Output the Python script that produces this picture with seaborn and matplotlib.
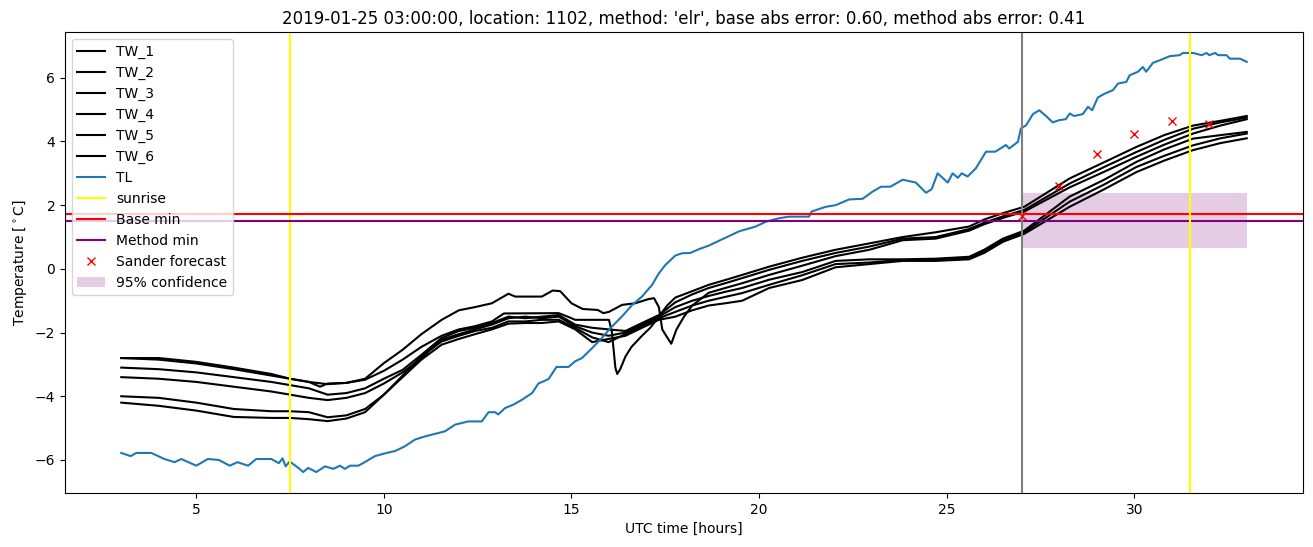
import matplotlib
matplotlib.use("Agg")
import matplotlib.pyplot as plt
import seaborn as sns
import pandas as pd

# ---------------- data ----------------
hours_grid = [3.0, 4.0, 5.0, 6.0, 7.0, 7.5, 8.0, 8.5, 9.0, 9.5, 10.0, 10.5, 11.0, 11.54, 12.0,
              12.43, 12.88, 13.32, 13.77, 14.21, 14.66, 15.1, 15.55, 15.99, 16.44, 16.88, 17.33,
              17.77, 18.22, 18.66, 19.1, 19.55, 20.27, 21.15, 22.04, 22.94, 23.83, 24.71, 25.6,
              26.0, 26.5, 27.07, 28.28, 29.2, 30.06, 30.8, 31.57, 32.3, 33.0]

tw1_hours = [3.0, 4.0, 5.0, 6.0, 7.0, 7.5, 8.0, 8.3, 8.5, 9.0, 9.5, 10.0, 10.5, 11.0, 11.54, 12.0,
             12.43, 12.88, 13.32, 13.5, 14.21, 14.5, 14.7, 15.0, 15.3, 15.7, 15.85, 16.0, 16.35,
             16.7, 17.05, 17.2, 17.33, 17.42, 17.55, 17.66, 17.8, 18.0, 18.22, 18.66, 19.1, 19.55,
             20.27, 21.15, 22.04, 22.94, 23.83, 24.71, 25.6, 26.0, 26.5, 27.07, 28.28, 29.2,
             30.06, 30.8, 31.57, 32.3, 33.0]
tw1 = [-2.8, -2.8, -2.92, -3.1, -3.3, -3.45, -3.55, -3.7, -3.6, -3.58, -3.45, -2.96, -2.54, -2.05,
       -1.6, -1.3, -1.2, -1.08, -0.78, -0.87, -0.87, -0.68, -0.7, -1.08, -1.26, -1.29, -1.39, -1.35,
       -1.13, -1.08, -0.95, -0.92, -1.2, -1.9, -2.15, -2.35, -1.9, -1.5, -1.15, -0.75, -0.6, -0.45,
       -0.19, 0.1, 0.4, 0.6, 0.9, 0.95, 1.2, 1.4, 1.6, 1.8, 2.56, 3.05, 3.52, 3.9, 4.25, 4.5, 4.7]

tw2_hours = [3.0, 4.0, 5.0, 6.0, 7.0, 7.5, 8.0, 8.5, 9.0, 9.5, 10.0, 10.5, 11.0, 11.54, 12.0,
             12.43, 12.88, 13.2, 14.66, 14.9, 15.1, 16.0, 16.08, 16.17, 16.22, 16.3, 16.44, 16.6,
             16.88, 17.1, 17.33, 17.55, 17.77, 18.22, 18.66, 19.1, 19.55, 20.27, 21.15, 22.04,
             22.94, 23.83, 24.71, 25.6, 26.0, 26.5, 27.07, 28.28, 29.2, 30.06, 30.8, 31.57, 32.3, 33.0]
tw2 = [-2.8, -2.85, -2.97, -3.15, -3.35, -3.45, -3.55, -3.62, -3.58, -3.48, -3.2, -2.85, -2.45,
       -2.1, -1.9, -1.8, -1.65, -1.4, -1.39, -1.5, -1.6, -1.6, -2.0, -3.1, -3.3, -3.15, -2.75, -2.45,
       -2.1, -1.85, -1.5, -1.15, -0.9, -0.7, -0.5, -0.35, -0.19, 0.07, 0.35, 0.6, 0.8, 1.0, 1.15,
       1.33, 1.55, 1.75, 1.95, 2.84, 3.35, 3.83, 4.2, 4.5, 4.65, 4.8]

tw3 = [-3.1, -3.15, -3.25, -3.4, -3.55, -3.65, -3.75, -3.95, -3.9, -3.75, -3.45, -3.17, -2.7, -2.17,
       -1.95, -1.85, -1.7, -1.5, -1.55, -1.5, -1.45, -1.75, -1.85, -1.9, -1.95, -1.7, -1.45, -1.05,
       -0.8, -0.6, -0.45, -0.29, -0.03, 0.25, 0.5, 0.7, 0.95, 1.0, 1.25, 1.45, 1.65, 1.85, 2.68,
       3.2, 3.67, 4.05, 4.4, 4.6, 4.75]
tw4 = [-3.4, -3.45, -3.55, -3.7, -3.85, -3.95, -4.05, -4.12, -4.05, -3.9, -3.6, -3.25, -2.8, -2.22,
       -2.05, -1.9, -1.75, -1.55, -1.5, -1.55, -1.5, -1.8, -2.0, -2.1, -2.0, -1.75, -1.5, -1.2, -1.0,
       -0.85, -0.72, -0.6, -0.34, -0.1, 0.25, 0.3, 0.3, 0.32, 0.38, 0.6, 0.95, 1.2, 2.27, 2.8, 3.36,
       3.75, 4.09, 4.2, 4.3]
tw5 = [-4.0, -4.05, -4.2, -4.4, -4.47, -4.47, -4.5, -4.66, -4.6, -4.4, -3.95, -3.35, -2.75, -2.28,
       -2.1, -1.95, -1.85, -1.65, -1.65, -1.6, -1.6, -1.85, -2.15, -2.3, -2.05, -1.8, -1.55, -1.35,
       -1.15, -1.0, -0.88, -0.76, -0.5, -0.2, 0.15, 0.2, 0.28, 0.3, 0.35, 0.55, 0.9, 1.15, 2.11,
       2.65, 3.2, 3.55, 3.88, 4.1, 4.25]
tw6 = [-4.2, -4.3, -4.45, -4.65, -4.68, -4.68, -4.72, -4.78, -4.7, -4.5, -3.95, -3.4, -2.85, -2.38,
       -2.2, -2.05, -1.9, -1.72, -1.7, -1.7, -1.65, -1.9, -2.3, -2.2, -2.1, -1.85, -1.6, -1.5, -1.3,
       -1.15, -1.08, -1.0, -0.6, -0.35, 0.05, 0.15, 0.25, 0.25, 0.3, 0.5, 0.85, 1.1, 1.95, 2.5, 3.04,
       3.4, 3.73, 3.95, 4.1]

tl_hours = [3.0, 3.25, 3.4, 3.8, 4.15, 4.42, 4.6, 5.0, 5.31, 5.6, 5.89, 6.1, 6.38, 6.6, 7.0, 7.2,
            7.3, 7.38, 7.49, 7.72, 7.85, 7.98, 8.2, 8.43, 8.65, 8.83, 8.96, 9.1, 9.32, 9.49, 9.76,
            10.07, 10.3, 10.56, 10.83, 11.1, 11.3, 11.63, 11.9, 12.25, 12.61, 12.79, 12.96, 13.05,
            13.23, 13.46, 13.68, 13.95, 14.12, 14.39, 14.6, 14.92, 15.1, 15.28, 15.55, 15.81,
            16.08, 16.35, 16.62, 16.88, 17.15, 17.33, 17.5, 17.77, 17.95, 18.17, 18.4, 18.66,
            18.93, 19.15, 19.47, 19.91, 20.18, 20.53, 20.8, 21.33, 21.4, 21.78, 22.04, 22.4,
            22.76, 23.02, 23.25, 23.5, 23.83, 24.18, 24.45, 24.6, 24.76, 25.03, 25.16, 25.3,
            25.4, 25.56, 25.78, 26.05, 26.3, 26.58, 26.67, 26.9, 26.98, 27.12, 27.3, 27.47,
            27.65, 27.83, 28.0, 28.18, 28.28, 28.4, 28.63, 28.77, 28.88, 29.03, 29.21, 29.43,
            29.57, 29.79, 29.88, 30.1, 30.23, 30.32, 30.5, 30.68, 30.95, 31.21, 31.3, 31.57,
            31.8, 31.93, 32.0, 32.16, 32.24, 32.46, 32.55, 32.82, 33.0]
tl = [-5.78, -5.88, -5.78, -5.78, -5.97, -6.07, -5.97, -6.18, -5.97, -6.0, -6.18, -6.07, -6.18,
      -5.97, -5.97, -6.1, -5.95, -6.2, -6.05, -6.25, -6.38, -6.25, -6.38, -6.2, -6.28, -6.18,
      -6.28, -6.18, -6.18, -6.07, -5.88, -5.78, -5.72, -5.57, -5.36, -5.26, -5.2, -5.1, -4.89,
      -4.79, -4.79, -4.5, -4.5, -4.57, -4.37, -4.26, -4.11, -3.9, -3.6, -3.46, -3.08, -3.08, -2.9,
      -2.8, -2.49, -2.17, -1.81, -1.49, -1.13, -0.87, -0.5, -0.14, 0.12, 0.42, 0.49, 0.5, 0.62,
      0.73, 0.88, 1.0, 1.18, 1.33, 1.48, 1.59, 1.64, 1.64, 1.8, 1.95, 2.0, 2.18, 2.2, 2.42, 2.58,
      2.58, 2.8, 2.71, 2.39, 2.5, 3.0, 2.71, 3.0, 2.86, 3.0, 2.9, 3.16, 3.68, 3.68, 3.89, 3.78,
      3.99, 4.41, 4.51, 4.86, 4.98, 4.8, 4.6, 4.67, 4.7, 4.88, 4.8, 4.86, 5.09, 4.98, 5.38, 5.5,
      5.61, 5.82, 5.87, 6.08, 6.19, 6.34, 6.19, 6.47, 6.55, 6.68, 6.71, 6.78, 6.78, 6.71, 6.78,
      6.71, 6.78, 6.71, 6.71, 6.6, 6.6, 6.5]

sunrise_hours = [7.5, 31.5]
forecast_time = 27.0
base_min = 1.71
method_min = 1.51
conf_hours = [27.0, 33.0]
conf_low = [0.64, 0.64]
conf_high = [2.38, 2.38]
sander_hours = [27, 28, 29, 30, 31, 32]
sander_values = [1.67, 2.60, 3.60, 4.25, 4.64, 4.54]

title = ("2019-01-25 03:00:00, location: 1102, method: 'elr', base abs error: 0.60, "
         "method abs error: 0.41")

# ---------------- plot ----------------
fig = plt.figure(figsize=(13.13, 5.47), dpi=100)
ax = fig.add_axes([0.0495, 0.0987, 0.9429, 0.8428])

tw_series = [("TW_1", tw1_hours, tw1), ("TW_2", tw2_hours, tw2), ("TW_3", hours_grid, tw3),
             ("TW_4", hours_grid, tw4), ("TW_5", hours_grid, tw5), ("TW_6", hours_grid, tw6)]
for name, hx, vals in tw_series:
    sns.lineplot(x=hx, y=vals, color="black", label=name, ax=ax, linewidth=1.5)

sns.lineplot(x=tl_hours, y=tl, color="#1f77b4", label="TL", ax=ax, linewidth=1.5)

ax.axvline(sunrise_hours[0], color="yellow", label="sunrise")
ax.axhline(base_min, color="red", label="Base min")
ax.axhline(method_min, color="purple", label="Method min")
ax.axvline(forecast_time, color="gray")
ax.axvline(sunrise_hours[1], color="yellow")

ax.plot(sander_hours, sander_values, linestyle="none", marker="x", color="red",
        label="Sander forecast")
ax.fill_between(conf_hours, conf_low, conf_high, color="purple", alpha=0.2, linewidth=0,
                label="95% confidence")

ax.set_xlabel("UTC time [hours]")
ax.set_ylabel(r"Temperature [$^\circ$C]")
ax.set_title(title)
ax.legend(loc="upper left")

fig.savefig("out.png", dpi=100)
